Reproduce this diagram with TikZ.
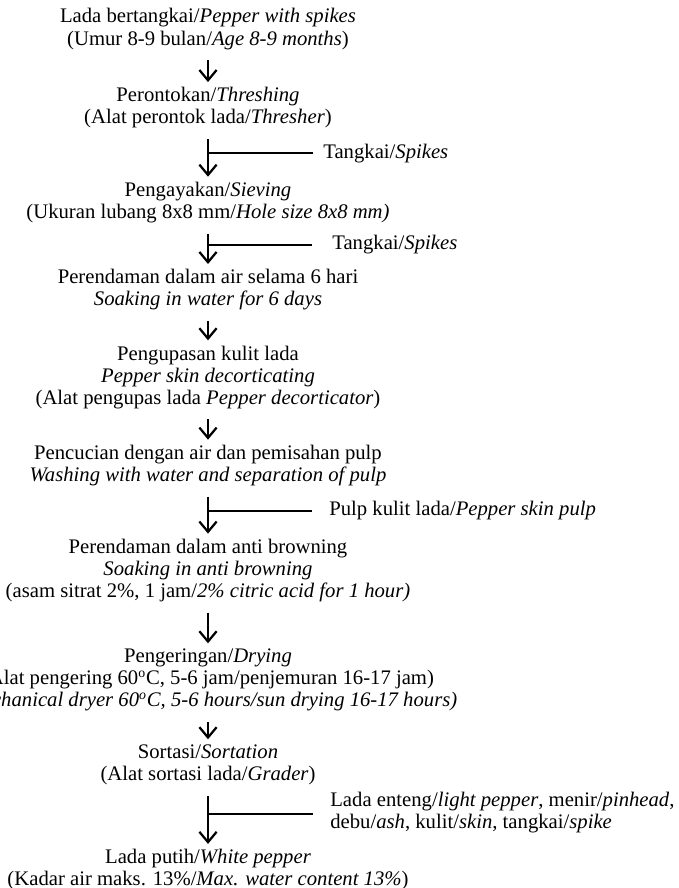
\documentclass[tikz,border=0pt]{standalone}
\usepackage{fontspec}
\setmainfont{Liberation Serif}
\usetikzlibrary{arrows.meta}

\tikzstyle{stage}=[align=center,inner sep=0pt,font=\fontsize{12pt}{12.8pt}\selectfont]
\tikzstyle{waste}=[align=left,anchor=west,inner sep=0pt,font=\fontsize{12pt}{12.8pt}\selectfont]
\tikzstyle{flow}=[->,line width=1.3pt,shorten <=6pt,shorten >=3pt]
\tikzstyle{side}=[line width=1.3pt]

\begin{document}
\begin{tikzpicture}[x=0.58pt,y=0.58pt,>={Straight Barb[length=6pt,width=10pt]}]
		\useasboundingbox (0,0) rectangle (679,-888);
		\node[stage] (raw) at (208,-29) {Lada bertangkai/\textit{Pepper with spikes}\\(Umur 8-9 bulan/\textit{Age 8-9 months})};
		\node[stage,below of=raw,node distance=16.1mm] (thresh) {Perontokan/\textit{Threshing}\\(Alat perontok lada/\textit{Thresher})};
		\node[stage,below of=thresh,node distance=19.3mm] (sieve) {Pengayakan/\textit{Sieving}\\(Ukuran lubang 8x8 mm/\textit{Hole size 8x8 mm)}};
		\node[stage,below of=sieve,node distance=17.8mm] (soak) {Perendaman dalam air selama 6 hari\\\textit{Soaking in water for 6 days}};
		\node[stage,below of=soak,node distance=17.8mm] (peel) {Pengupasan kulit lada\\\textit{Pepper skin decorticating}\\(Alat pengupas lada \textit{Pepper decorticator})};
		\node[stage,below of=peel,node distance=18mm] (wash) {Pencucian dengan air dan pemisahan pulp\\\textit{Washing with water and separation of pulp}};
		\node[stage,below of=wash,node distance=21.4mm] (antibrown) {Perendaman dalam anti browning\\\textit{Soaking in anti browning}\\(asam sitrat 2\%, 1 jam/\textit{2\% citric acid for 1 hour)}};
		\node[stage,below of=antibrown,node distance=22.3mm] (dry) {Pengeringan/\textit{Drying}\\(Alat pengering 60\textsuperscript{o}C, 5-6 jam/penjemuran 16-17 jam)\\\textit{(Mechanical dryer 60\textsuperscript{o}C, 5-6 hours/sun drying 16-17 hours)}};
		\node[stage,below of=dry,node distance=17.3mm] (sort) {Sortasi/\textit{Sortation}\\(Alat sortasi lada/\textit{Grader})};
		\node[stage,below of=sort,node distance=21.4mm] (white) {Lada putih/\textit{White pepper}\\(Kadar air maks. 13\%/\textit{Max. water content 13\%})};
		% side outputs
		\node[waste] (spikes1) at (323,-154) {Tangkai/\textit{Spikes}};
		\node[waste] (spikes2) at (332,-245) {Tangkai/\textit{Spikes}};
		\node[waste] (pulp) at (329,-511) {Pulp kulit lada/\textit{Pepper skin pulp}};
		\node[waste] (rest) at (330,-813) {Lada enteng/\textit{light pepper}, menir/\textit{pinhead},\\debu/\textit{ash}, kulit/\textit{skin}, tangkai/\textit{spike}};
		\coordinate (b1) at (313,-153);
		\coordinate (b2) at (312,-245);
		\coordinate (b3) at (312,-511);
		\coordinate (b4) at (313,-814);
		\draw[flow] (raw)--(thresh);
		\draw[flow] (thresh)--(sieve);
		\draw[flow] (sieve)--(soak);
		\draw[flow] (soak)--(peel);
		\draw[flow] (peel)--(wash);
		\draw[flow] (wash)--(antibrown);
		\draw[flow] (antibrown)--(dry);
		\draw[flow] (dry)--(sort);
		\draw[flow] (sort)--(white);
		\draw[side] (b1)--(b1 -| thresh.south);
		\draw[side] (b2)--(b2 -| sieve.south);
		\draw[side] (b3)--(b3 -| wash.south);
		\draw[side] (b4)--(b4 -| sort.south);
	\end{tikzpicture}
\end{document}
